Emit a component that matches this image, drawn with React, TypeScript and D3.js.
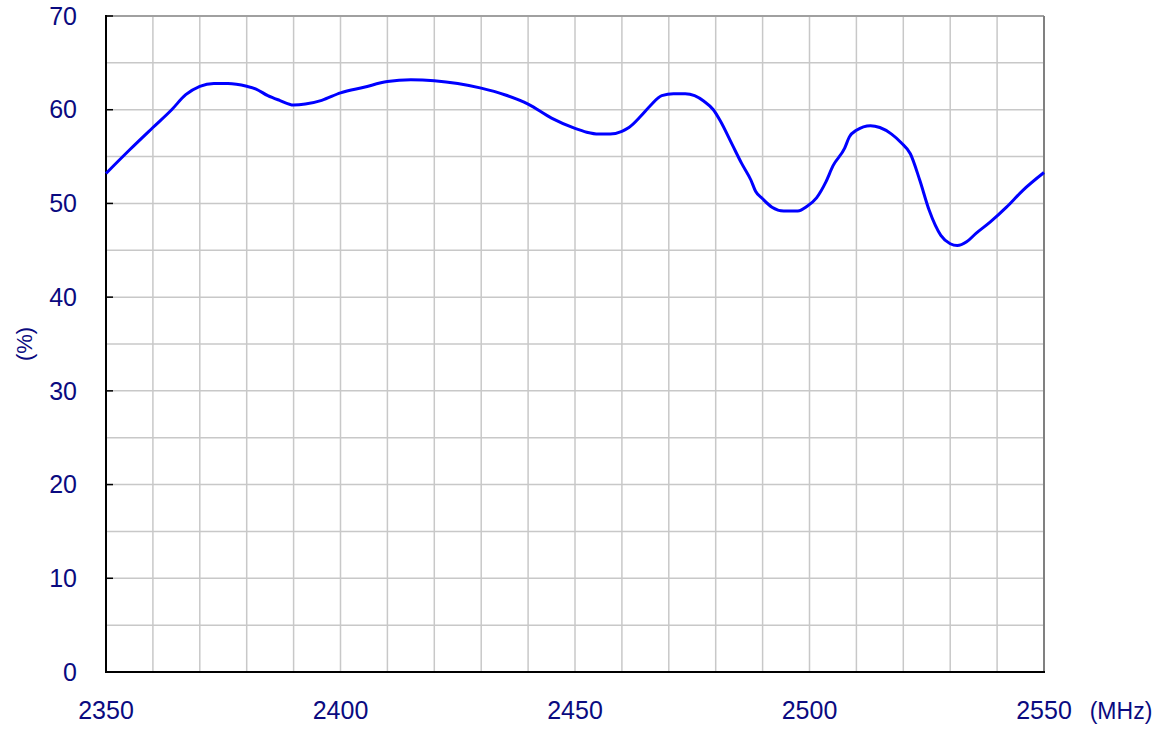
import React from 'react';
import * as d3 from 'd3';

// frequency (MHz) and efficiency (%)
const freqs = [
  2350, 2355, 2360, 2364, 2367, 2370, 2373, 2376, 2380, 2382, 2384.5, 2387, 2390,
  2392.5, 2396, 2400, 2405, 2410, 2415, 2420, 2425, 2430, 2435, 2440, 2445, 2450,
  2452.5, 2455, 2457.5, 2460, 2461.5, 2464, 2466, 2468.5, 2471, 2473.5, 2475.5,
  2477.5, 2479.5, 2481, 2483.5, 2485.5, 2487.5, 2488.5, 2490, 2492, 2494.5, 2497.5,
  2499.5, 2501.5, 2503.5, 2505, 2507.5, 2508.5, 2510, 2513, 2515, 2517.5, 2519.5,
  2521.5, 2523.5, 2525.5, 2528, 2530, 2531.5, 2533.5, 2535.5, 2538.5, 2542, 2545.5,
  2550,
];
const efficiency = [
  53.2, 55.7, 58.1, 60.0, 61.6, 62.5, 62.8, 62.8, 62.5, 62.2, 61.5, 61.0, 60.5,
  60.6, 61.0, 61.8, 62.4, 63.0, 63.2, 63.1, 62.8, 62.3, 61.6, 60.6, 59.1, 58.0,
  57.6, 57.4, 57.4, 57.7, 58.1, 59.3, 60.4, 61.5, 61.7, 61.7, 61.5, 60.9, 60.0,
  58.8, 56.3, 54.3, 52.5, 51.3, 50.5, 49.6, 49.2, 49.2, 49.7, 50.6, 52.3, 54.0,
  55.9, 57.1, 57.8, 58.3, 58.1, 57.4, 56.5, 55.3, 52.5, 49.3, 46.6, 45.7, 45.5,
  45.9, 46.8, 48.0, 49.6, 51.4, 53.3,
];

const xTicks = [2350, 2400, 2450, 2500, 2550];
const yTicks = [0, 10, 20, 30, 40, 50, 60, 70];
const xGrid = d3.range(2350, 2551, 10);
const yGrid = d3.range(0, 71, 5);

const W = 1163;
const H = 729;
const left = 106;
const right = 1044;
const top = 16;
const bottom = 672;
const textColor = '#0a0a80';
const font = '"Liberation Sans", Arial, sans-serif';

export default function App() {
  const x = d3.scaleLinear().domain([2350, 2550]).range([left, right]);
  const y = d3.scaleLinear().domain([0, 70]).range([bottom, top]);

  const pts: [number, number][] = freqs.map((f, i) => [f, efficiency[i]]);
  const line = d3
    .line<[number, number]>()
    .x(d => x(d[0]))
    .y(d => y(d[1]))
    .curve(d3.curveMonotoneX);

  return (
    <svg
      width={W}
      height={H}
      style={{ position: 'absolute', left: 0, top: 0, background: '#fff' }}
      fontFamily={font}
    >
      {/* grid */}
      {xGrid.map(v => (
        <line key={'gx' + v} x1={x(v)} x2={x(v)} y1={top} y2={bottom} stroke="#c8c8c8" strokeWidth={1.5} />
      ))}
      {yGrid.map(v => (
        <line key={'gy' + v} x1={left} x2={right} y1={y(v)} y2={y(v)} stroke="#c8c8c8" strokeWidth={1.5} />
      ))}

      {/* frame */}
      <line x1={left} x2={right} y1={top} y2={top} stroke="#a0a0a0" strokeWidth={2} />
      <line x1={right} x2={right} y1={top} y2={bottom} stroke="#808080" strokeWidth={2} />
      <line x1={left} x2={right + 1} y1={bottom} y2={bottom} stroke="#000" strokeWidth={2} />
      <line x1={left} x2={left} y1={top - 1} y2={bottom + 1} stroke="#000" strokeWidth={2} />

      {/* y ticks */}
      {yTicks.map(v => (
        <g key={'yt' + v}>
          <line x1={left} x2={left + 7} y1={y(v)} y2={y(v)} stroke="#000" strokeWidth={1.5} />
          <text
            x={77}
            y={y(v)}
            dy="0.35em"
            textAnchor="end"
            fontSize={25}
            fill={textColor}
          >
            {v}
          </text>
        </g>
      ))}

      {/* x ticks */}
      {xTicks.map(v => (
        <text key={'xt' + v} x={x(v)} y={710} dy="0.35em" textAnchor="middle" fontSize={25} fill={textColor}>
          {v}
        </text>
      ))}
      <text x={1121} y={711} dy="0.35em" textAnchor="middle" fontSize={23} fill={textColor}>
        (MHz)
      </text>
      <text
        transform={`translate(24, ${344}) rotate(-90)`}
        dy="0.35em"
        textAnchor="middle"
        fontSize={22}
        fill={textColor}
      >
        (%)
      </text>

      {/* curve */}
      <path d={line(pts) ?? ''} fill="none" stroke="#0000ff" strokeWidth={3} strokeLinejoin="round" />
    </svg>
  );
}
